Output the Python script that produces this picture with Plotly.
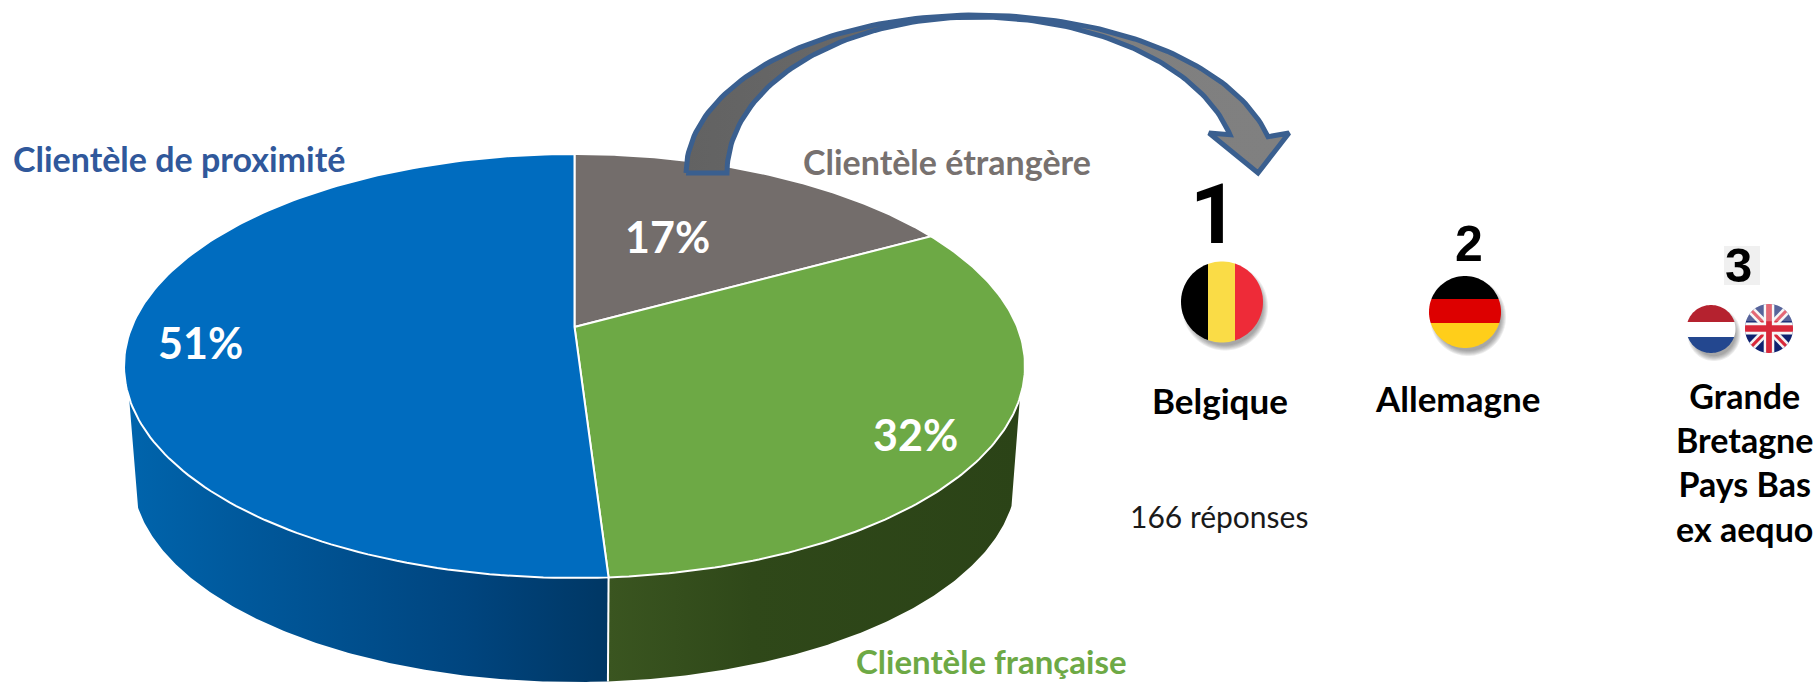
import math
import plotly.graph_objects as go

# ---- data ----
slice_names = ["Clientèle étrangère", "Clientèle française", "Clientèle de proximité"]
slice_shares = [17, 32, 51]
slice_labels = ["17%", "32%", "51%"]
rank_numbers = ["1", "2", "3"]
rank_countries = ["Belgique", "Allemagne", "Grande<br>Bretagne<br>Pays Bas<br>ex aequo"]
response_note = "166 réponses"

# ---- styles / geometry of the drawing ----
W, H = 1819, 684
TOP = dict(cx=574.5, cy=366, rx=450.5, ry=212)
BOT = dict(cx=574.5, cy=475, rx=442, ry=207)
PERSP = 0.184
TOP_COL = ["#736D6B", "#6DA945", "#006CBF"]
TXT_COL = ["#77716F", "#6DA945", "#30589B"]
BODY = "Lato"
DIGITS = "Liberation Sans"


def rim(f, e):
    """Perspective projection of a point of the pie rim at share f (0..1 clockwise from top)."""
    th = 2 * math.pi * f
    u, v = math.sin(th), math.cos(th)
    d = 1 + PERSP * v
    return (e["cx"] + e["rx"] * u * math.sqrt(1 - PERSP ** 2) / d,
            e["cy"] - e["ry"] * (v + PERSP) / d)


def arc(f0, f1, e, n=160):
    return [rim(f0 + (f1 - f0) * i / n, e) for i in range(n + 1)]


def apex(e):
    return (e["cx"], e["cy"] - e["ry"] * PERSP)


fig = go.Figure()


def poly(pts, **kw):
    xs = [p[0] for p in pts] + [pts[0][0]]
    ys = [p[1] for p in pts] + [pts[0][1]]
    fig.add_trace(go.Scatter(x=xs, y=ys, mode="lines", fill="toself", hoverinfo="skip",
                             showlegend=False, **kw))


total = sum(slice_shares)
edges = [0]
for s in slice_shares:
    edges.append(edges[-1] + s / total)

# walls: visible from the tangent points of the rim
tan_y = -0.15
v_t = (tan_y - PERSP) / (1 - tan_y * PERSP)
f_r = math.acos(v_t) / (2 * math.pi)
f_l = 1 - f_r
split = edges[2]

green_wall = arc(f_r, split, TOP) + arc(split, f_r, BOT)
blue_wall = arc(split, f_l, TOP) + arc(f_l, split, BOT)
poly(green_wall, line=dict(width=0, color="#2C4418"),
     fillgradient=dict(type="horizontal",
                       colorscale=[[0, "#3A5520"], [0.35, "#2F4819"], [1, "#2B4317"]]))
poly(blue_wall, line=dict(width=0, color="#00509A"),
     fillgradient=dict(type="horizontal",
                       colorscale=[[0, "#0064AC"], [0.25, "#00589B"], [0.7, "#00457F"], [1, "#003764"]]))
a, b = rim(split, TOP), rim(split, BOT)
fig.add_trace(go.Scatter(x=[a[0], b[0]], y=[a[1], b[1]], mode="lines", hoverinfo="skip",
                         showlegend=False, line=dict(color="white", width=2)))

# top faces
for i, col in enumerate(TOP_COL):
    pts = [apex(TOP)] + arc(edges[i], edges[i + 1], TOP)
    poly(pts, fillcolor=col, line=dict(color="white", width=2))


# ---- curved arrow ----
def quarter(cx, cy, rx, ry, t0, t1, n=60):
    return [(cx + rx * math.sin(t0 + (t1 - t0) * i / n), cy - ry * math.cos(t0 + (t1 - t0) * i / n))
            for i in range(n + 1)]


HP = math.pi / 2
ARROW_X, ARROW_Y = 976, 173
outer = (quarter(ARROW_X, ARROW_Y, 290, 158, -HP, 0)
         + quarter(ARROW_X, ARROW_Y, 300, 158, 0, math.asin(292 / 300)))
inner = (quarter(ARROW_X, ARROW_Y, 249, 156, -HP, 0)
         + quarter(ARROW_X, ARROW_Y, 262, 156, 0, math.asin(254 / 262)))
arrow = outer + [(1289, 133), (1258, 173), (1209, 133)] + inner[::-1]
poly(arrow, line=dict(color="#3A5F8F", width=5),
     fillgradient=dict(type="horizontal",
                       colorscale=[[0, "#626262"], [0.35, "#6A6A6A"], [0.6, "#7F7F7F"], [1, "#808080"]]))


# ---- flags ----
def ellipse_poly(cx, cy, rx, ry, n=90):
    return [(cx + rx * math.cos(2 * math.pi * i / n), cy + ry * math.sin(2 * math.pi * i / n))
            for i in range(n)]


def clip(subject, clipper):
    """Sutherland-Hodgman clip by a convex polygon."""
    out = subject
    area = sum(clipper[i][0] * clipper[(i + 1) % len(clipper)][1]
               - clipper[(i + 1) % len(clipper)][0] * clipper[i][1] for i in range(len(clipper)))
    sgn = 1 if area > 0 else -1
    for i in range(len(clipper)):
        A, B = clipper[i], clipper[(i + 1) % len(clipper)]
        inside = lambda p: sgn * ((B[0] - A[0]) * (p[1] - A[1]) - (B[1] - A[1]) * (p[0] - A[0])) >= 0
        res = []
        for j in range(len(out)):
            P, Q = out[j], out[(j + 1) % len(out)]
            if inside(P):
                res.append(P)
            if inside(P) != inside(Q):
                d1 = (B[0] - A[0]) * (P[1] - A[1]) - (B[1] - A[1]) * (P[0] - A[0])
                d2 = (B[0] - A[0]) * (Q[1] - A[1]) - (B[1] - A[1]) * (Q[0] - A[0])
                t = d1 / (d1 - d2)
                res.append((P[0] + t * (Q[0] - P[0]), P[1] + t * (Q[1] - P[1])))
        out = res
        if not out:
            break
    return out


shapes = []


def shape_poly(pts, col, opacity=1):
    if not pts:
        return
    path = "M" + "L".join(f"{x:.2f},{y:.2f}" for x, y in pts) + "Z"
    shapes.append(dict(type="path", path=path, fillcolor=col, opacity=opacity,
                       line=dict(width=0), xref="x", yref="y", layer="above"))


def shadow(cx, cy, rx, ry):
    for k in range(6):
        shape_poly(ellipse_poly(cx + 3, cy + 5, rx + 2 - k, ry + 3 - k), "#333333", 0.09)


def bands_v(cx, cy, rx, ry, cuts, cols):
    el = ellipse_poly(cx, cy, rx, ry)
    xs = [cx - rx - 1] + cuts + [cx + rx + 1]
    for i, c in enumerate(cols):
        r = [(xs[i], cy - ry - 1), (xs[i + 1], cy - ry - 1), (xs[i + 1], cy + ry + 1), (xs[i], cy + ry + 1)]
        shape_poly(clip(r, el), c)


def bands_h(cx, cy, rx, ry, cuts, cols):
    el = ellipse_poly(cx, cy, rx, ry)
    ys = [cy - ry - 1] + cuts + [cy + ry + 1]
    for i, c in enumerate(cols):
        r = [(cx - rx - 1, ys[i]), (cx + rx + 1, ys[i]), (cx + rx + 1, ys[i + 1]), (cx - rx - 1, ys[i + 1])]
        shape_poly(clip(r, el), c)


shadow(1222, 302, 41, 40.5)
bands_v(1222, 302, 41, 40.5, [1208, 1235], ["#000000", "#FADC46", "#EE2B38"])
shadow(1465, 312, 36, 36)
bands_h(1465, 312, 36, 36, [299, 323], ["#000000", "#DD0000", "#FFCE1A"])
shadow(1711, 329, 24.5, 24)
bands_h(1711, 329, 24.5, 24, [322, 337], ["#B5222F", "#FFFFFF", "#23478F"])


def union_jack(cx, cy, rx, ry):
    el = ellipse_poly(cx, cy, rx, ry)
    sh = lambda pts, c: shape_poly(clip([(cx + rx * x, cy + ry * y) for x, y in pts], el), c)
    sh([(-1.1, -1.1), (1.1, -1.1), (1.1, 1.1), (-1.1, 1.1)], "#0F2270")
    for s in (1, -1):
        w = 0.24
        sh([(-1.1, -1.1 * s - w), (-1.1, -1.1 * s + w), (1.1, 1.1 * s + w), (1.1, 1.1 * s - w)], "#F3F3F3")
        w = 0.09
        sh([(-1.1, -1.1 * s - w), (-1.1, -1.1 * s + w), (1.1, 1.1 * s + w), (1.1, 1.1 * s - w)], "#D8283A")
    sh([(-0.22, -1.1), (0.22, -1.1), (0.22, 1.1), (-0.22, 1.1)], "#F7F7F7")
    sh([(-1.1, -0.24), (1.1, -0.24), (1.1, 0.24), (-1.1, 0.24)], "#F7F7F7")
    sh([(-0.12, -1.1), (0.12, -1.1), (0.12, 1.1), (-0.12, 1.1)], "#D8283A")
    sh([(-1.1, -0.13), (1.1, -0.13), (1.1, 0.13), (-1.1, 0.13)], "#D8283A")
    # glossy top
    sh([(-1.1, -1.1), (1.1, -1.1), (1.1, -0.3), (-1.1, -0.3)], "rgba(255,255,255,0.3)")


union_jack(1769, 328.5, 24, 24.5)

# small pale box behind the "3"
shapes.append(dict(type="rect", x0=1724, x1=1760, y0=246, y1=285, xref="x", yref="y",
                   fillcolor="#F0F0F0", line=dict(width=0), layer="below"))

# ---- text ----
ann = []


def text(x, y, t, size, col, family=BODY, bold=True, anchor="center"):
    ann.append(dict(x=x, y=y, xref="x", yref="y", text=f"<b>{t}</b>" if bold else t, showarrow=False,
                    xanchor=anchor, yanchor="middle",
                    font=dict(family=family, size=size, color=col), align="center"))


text(179, 158, slice_names[2], 34, TXT_COL[2])
text(947, 161, slice_names[0], 34, TXT_COL[0])
text(991, 661, slice_names[1], 33, TXT_COL[1])

text(667, 236, slice_labels[0], 43, "white")
text(915, 434, slice_labels[1], 43, "white")
text(200, 342, slice_labels[2], 43, "white")

text(1214, 214, rank_numbers[0], 84, "black", "Roboto")
text(1469, 244, rank_numbers[1], 50, "black", DIGITS)
text(1738, 265, rank_numbers[2], 49, "black", DIGITS)

text(1220, 400, rank_countries[0], 35, "black")
text(1457, 398, rank_countries[1], 35, "black")
text(1744, 462, rank_countries[2], 34, "black")
text(1219, 516, response_note, 30, "#1A1A1A", bold=False)

fig.update_layout(
    width=W, height=H, margin=dict(l=0, r=0, t=0, b=0),
    paper_bgcolor="white", plot_bgcolor="white", showlegend=False,
    xaxis=dict(range=[0, W], visible=False, fixedrange=True),
    yaxis=dict(range=[H, 0], visible=False, fixedrange=True),
    shapes=shapes, annotations=ann,
)
fig.write_html("out.html", config=dict(displayModeBar=False),
               post_script="document.body.style.margin='0';document.body.style.overflow='hidden';")
